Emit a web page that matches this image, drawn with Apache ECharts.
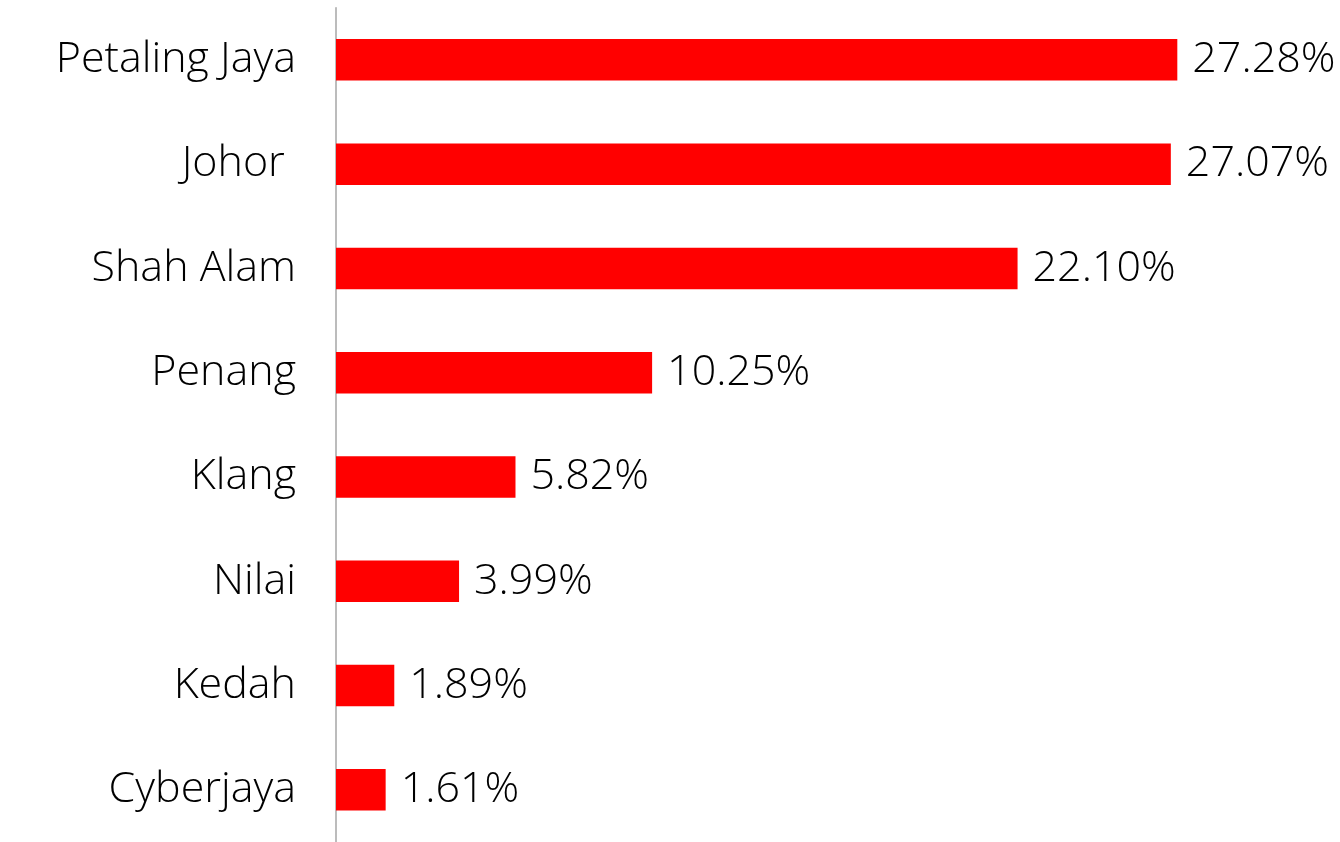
<!DOCTYPE html>
<html>
<head>
<meta charset="utf-8">
<script src="https://cdn.jsdelivr.net/npm/echarts@6/dist/echarts.min.js"></script>
<style>
  html, body { margin: 0; padding: 0; background: #ffffff; }
  #chart { width: 1340px; height: 842px; }
</style>
</head>
<body>
<div id="chart"></div>
<script>
// Share of listings by location (%)
const locations = ['Petaling Jaya', 'Johor ', 'Shah Alam', 'Penang', 'Klang', 'Nilai', 'Kedah', 'Cyberjaya'];
const shares = [27.28, 27.07, 22.10, 10.25, 5.82, 3.99, 1.89, 1.61];

const FONT = '"Open Sans", Lato, sans-serif';
const chart = echarts.init(document.getElementById('chart'), null, { renderer: 'canvas' });

chart.setOption({
  animation: false,
  backgroundColor: '#ffffff',
  grid: { left: 336, top: 7.7, width: 925.2, height: 838, containLabel: false },
  xAxis: {
    type: 'value',
    min: 0,
    max: 30,
    show: false
  },
  yAxis: {
    type: 'category',
    data: locations,
    inverse: true,
    axisLine: { show: true, lineStyle: { color: '#a6a6a6', width: 1.5 } },
    axisTick: { show: false },
    splitLine: { show: false },
    axisLabel: {
      color: '#000000',
      fontFamily: FONT,
      fontWeight: 300,
      fontSize: 43,
      margin: 40
    }
  },
  series: [{
    type: 'bar',
    data: shares,
    barWidth: 41.5,
    itemStyle: { color: '#ff0000' },
    label: {
      show: true,
      position: 'right',
      distance: 15,
      color: '#000000',
      fontFamily: FONT,
      fontWeight: 300,
      fontSize: 43,
      formatter: p => p.value.toFixed(2) + '%'
    }
  }]
});
</script>
</body>
</html>
